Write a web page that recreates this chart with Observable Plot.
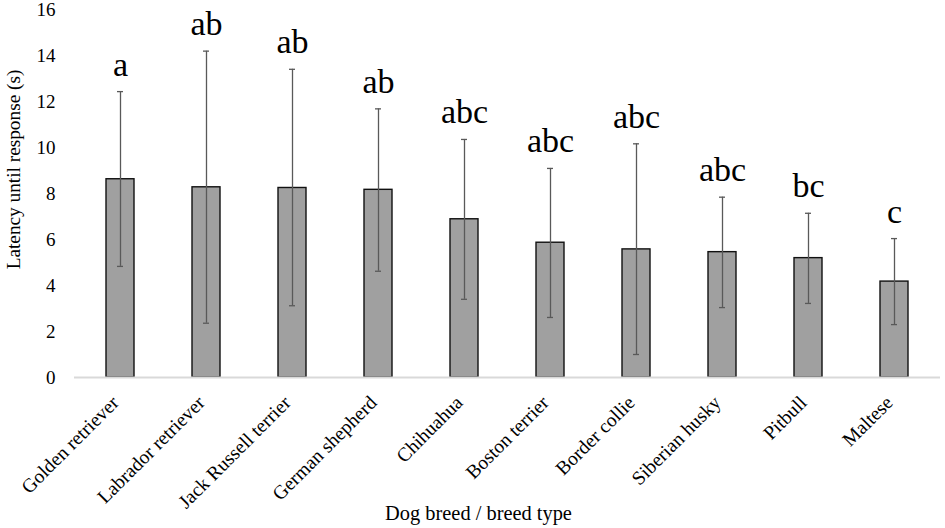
<!DOCTYPE html>
<html>
<head>
<meta charset="utf-8">
<script src="https://cdn.jsdelivr.net/npm/d3@7"></script>
<script src="https://cdn.jsdelivr.net/npm/@observablehq/plot@0.6"></script>
<style>
  html, body { margin: 0; padding: 0; background: #fff; }
  #chart { width: 945px; height: 528px; }
  #chart svg text { font-family: 'Liberation Serif', 'Times New Roman', serif; }
</style>
</head>
<body>
<div id="chart"></div>
<script>
const breeds = ["Golden retriever", "Labrador retriever", "Jack Russell terrier", "German shepherd", "Chihuahua", "Boston terrier", "Border collie", "Siberian husky", "Pitbull", "Maltese"];
const means = [8.62, 8.27, 8.24, 8.16, 6.88, 5.86, 5.57, 5.45, 5.19, 4.17];
const errLow = [4.83, 2.36, 3.12, 4.62, 3.40, 2.61, 1.00, 3.04, 3.22, 2.30];
const errHigh = [12.43, 14.19, 13.40, 11.68, 10.35, 9.09, 10.16, 7.84, 7.14, 6.04];
const letters = ["a", "ab", "ab", "ab", "abc", "abc", "abc", "abc", "bc", "c"];
const yTicks = [0, 2, 4, 6, 8, 10, 12, 14, 16];
const yLabel = ["Latency until response (s)"];
const xLabel = ["Dog breed / breed type"];

const data = breeds.map((b, i) => ({breed: b, mean: means[i], lo: errLow[i], hi: errHigh[i], letter: letters[i]}));
const serif = "'Liberation Serif', 'Times New Roman', serif";

const chart = Plot.plot({
  width: 945,
  height: 528,
  marginLeft: 74,
  marginRight: 5,
  marginTop: 9,
  marginBottom: 151,
  style: {fontFamily: serif, color: "#000", background: "#fff"},
  x: {domain: breeds, paddingInner: 0.677, paddingOuter: 0.3385, align: 0.5},
  y: {domain: [0, 16]},
  marks: [
    Plot.barY(data, {x: "breed", y: "mean", fill: "#a0a0a0", stroke: "#111", strokeWidth: 1.4}),
    Plot.ruleY([0], {stroke: "#d9d9d9", strokeWidth: 2}),
    Plot.ruleX(data, {x: "breed", y1: "lo", y2: "hi", stroke: "#595959", strokeWidth: 1.3}),
    Plot.tickY(data, {x: "breed", y: "lo", stroke: "#595959", strokeWidth: 1.3, insetLeft: 11, insetRight: 11}),
    Plot.tickY(data, {x: "breed", y: "hi", stroke: "#595959", strokeWidth: 1.3, insetLeft: 11, insetRight: 11}),
    Plot.text(data, {x: "breed", y: "hi", text: "letter", dy: -16, lineAnchor: "bottom", fontSize: 34, fontFamily: serif, fill: "#000"}),
    Plot.axisY({ticks: yTicks, tickSize: 0, tickPadding: 19, fontSize: 19, fontFamily: serif, label: null}),
    Plot.text(yLabel, {frameAnchor: "left", rotate: -90, dx: -61, dy: -24, textAnchor: "middle", lineAnchor: "middle", fontSize: 19.3, fontFamily: serif, fill: "#000"}),
    Plot.axisX({tickSize: 0, tickPadding: 22, dx: -5, tickRotate: -45, fontSize: 19.5, fontFamily: serif, label: null}),
    Plot.text(xLabel, {frameAnchor: "bottom", dx: -29, dy: 142, textAnchor: "middle", lineAnchor: "bottom", fontSize: 20.4, fontFamily: serif, fill: "#000"})
  ]
});
document.getElementById("chart").appendChild(chart);
</script>
</body>
</html>
